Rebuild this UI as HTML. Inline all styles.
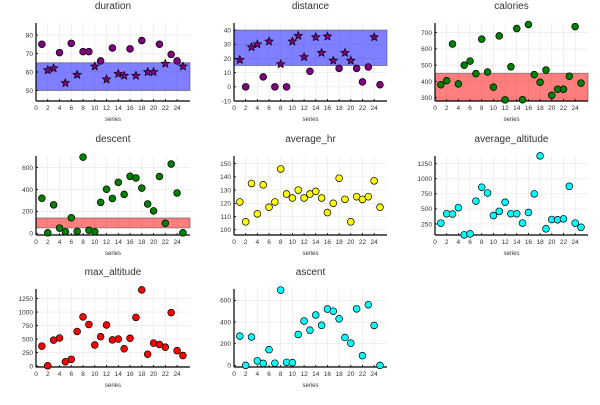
<!DOCTYPE html>
<html><head><meta charset="utf-8"><style>
body{margin:0;background:#fff;font-family:"Liberation Sans",sans-serif}
svg text{font-family:"Liberation Sans",sans-serif;fill:#333}
</style></head><body>
<svg id="c" width="600" height="400"></svg>
<script>
const series = [1,2,3,4,5,6,7,8,9,10,11,12,13,14,15,16,17,18,19,20,21,22,23,24,25];
const xTicks = [0,2,4,6,8,10,12,14,16,18,20,22,24];
const durationVals = [75,61,62,70.5,54,75.5,58.5,71,71,63,66,56,73,59,58,72.5,58,77,60,60,75,64.5,69.5,66,63];
const durationStar = [0,1,1,0,1,0,1,0,0,1,0,1,0,1,1,0,1,0,1,1,0,1,0,0,1];
const durationBand = [50,65];
const distanceVals = [19,0,28,30,7,32,0,16,0,32,36,21,11,35,24,35.5,18.5,13,24,18.5,13,3.5,14,35,1.5];
const distanceStar = [1,0,1,1,0,1,0,1,0,1,1,1,0,1,1,1,1,0,1,1,0,0,0,1,0];
const distanceBand = [15,40];
const caloriesVals = [380,405,630,385,500,525,448,660,458,365,680,287,490,725,288,750,442,395,470,315,352,352,432,737,390];
const caloriesBand = [280,450];
const descentVals = [320,5,260,48,15,142,18,695,28,15,282,402,318,465,355,520,505,412,268,205,518,92,632,368,5];
const descentBand = [50,140];
const avgHrVals = [121,106,135,112,134,117,121,146,127,124,130,124,127,129,124,113,120,139,123,106,125,123,125,137,117];
const avgAltVals = [265,420,415,520,70,85,630,860,765,390,460,610,420,420,265,440,750,1380,170,325,320,335,875,265,195];
const maxAltVals = [370,5,480,520,80,125,640,910,770,390,545,760,485,500,320,515,900,1410,220,425,400,350,990,285,195];
const ascentVals = [270,0,262,42,18,145,20,695,28,25,285,410,325,465,370,520,500,430,257,205,522,90,560,368,0];
const durTicks=[50,60,70,80], distTicks=[-10,0,10,20,30,40], calTicks=[300,400,500,600,700],
      desTicks=[0,200,400,600], hrTicks=[100,110,120,130,140,150], altTicks=[250,500,750,1000,1250],
      maxTicks=[0,250,500,750,1000,1250];

const svg=document.getElementById('c');const NS='http://www.w3.org/2000/svg';
function mk(t,a,p){const e=document.createElementNS(NS,t);for(const k in a)e.setAttribute(k,a[k]);(p||svg).appendChild(e);return e;}
function star(cx,cy,r){let p=[];for(let i=0;i<10;i++){const rr=i%2?r*0.45:r;const a=-Math.PI/2+i*Math.PI/5;p.push((cx+rr*Math.cos(a)).toFixed(2)+','+(cy+rr*Math.sin(a)).toFixed(2));}return p.join(' ');}

function panel(name,L,R,T,B,ymin,ymax,yt,vals,color,band,bandColor,stars){
  const g=mk('g',{});
  
  
  const sx=v=>L+(v-0)/(26.2)*(R-L);
  const sy=v=>B-(v-ymin)/(ymax-ymin)*(B-T);
  xTicks.forEach(t=>{mk('line',{x1:sx(t),x2:sx(t),y1:T,y2:B,stroke:'#e6e6e6','stroke-width':0.6},g);});
  yt.forEach(t=>{mk('line',{x1:L,x2:R,y1:sy(t),y2:sy(t),stroke:'#e6e6e6','stroke-width':0.6},g);});
  if(band){const r=mk('rect',{x:L,y:sy(band[1]),width:R-L,height:sy(band[0])-sy(band[1]),fill:bandColor,'fill-opacity':0.5,stroke:'#555','stroke-opacity':0.6,'stroke-width':1},g);
    }
  mk('line',{x1:L,x2:L,y1:T,y2:B,stroke:'#000','stroke-width':1.2},g);
  mk('line',{x1:L,x2:R,y1:B,y2:B,stroke:'#000','stroke-width':1.2},g);
  xTicks.forEach(t=>{mk('line',{x1:sx(t),x2:sx(t),y1:B,y2:B-2,stroke:'#000','stroke-width':0.8},g);
    const tx=mk('text',{x:sx(t),y:B+9,'font-size':6.5,'text-anchor':'middle'},g);tx.textContent=t;});
  yt.forEach(t=>{mk('line',{x1:L,x2:L+2,y1:sy(t),y2:sy(t),stroke:'#000','stroke-width':0.8},g);
    const tx=mk('text',{x:L-3,y:sy(t)+2.3,'font-size':6.5,'text-anchor':'end'},g);tx.textContent=t;});
  const ti=mk('text',{x:(L+R)/2,y:T-14,'font-size':10,'text-anchor':'middle'},g);ti.textContent=name;
  
  const xl=mk('text',{x:(L+R)/2,y:B+20,'font-size':6,'text-anchor':'middle'},g);xl.textContent='series';
  
  series.forEach((s,i)=>{
    const v=vals[i];let m;
    if(stars&&stars[i]){m=mk('polygon',{points:star(sx(s),sy(v),4.3),fill:color,stroke:'#000','stroke-width':0.7},g);}
    else{m=mk('circle',{cx:sx(s),cy:sy(v),r:3.4,fill:color,stroke:'#000','stroke-width':0.7},g);}
    
    
  });
}
panel('duration',36,190,23,101,44.3,86.5,durTicks,durationVals,'#800080',durationBand,'#0000ff',durationStar);
panel('distance',234,387,23,101,-10,45,distTicks,distanceVals,'#800080',distanceBand,'#0000ff',distanceStar);
panel('calories',435,588,23,101,280,759,calTicks,caloriesVals,'#008000',caloriesBand,'#ff0000',null);
panel('descent',36,190,156,235,-15,705,desTicks,descentVals,'#008000',descentBand,'#ff0000',null);
panel('average_hr',234,387,156,235,96,155.8,hrTicks,avgHrVals,'#ffff00',null,null,null);
panel('average_altitude',435,588,156,235,67,1378,altTicks,avgAltVals,'#00ffff',null,null,null);
panel('max_altitude',36,190,289,367,-17,1426,maxTicks,maxAltVals,'#ff0000',null,null,null);
panel('ascent',234,387,289,367,-15,705,desTicks,ascentVals,'#00ffff',null,null,null);
</script>
</body></html>
